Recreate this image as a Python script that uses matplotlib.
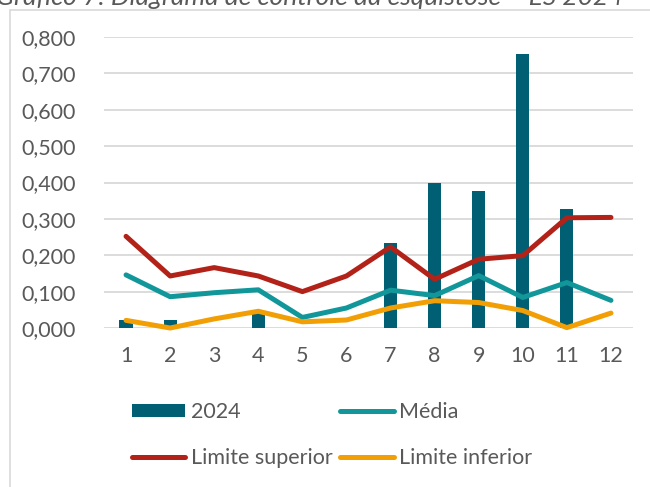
import numpy as np
import matplotlib.pyplot as plt
from matplotlib.patches import Rectangle, Patch
from matplotlib.lines import Line2D
from matplotlib.ticker import FuncFormatter

plt.rcParams['font.family'] = ['Lato', 'DejaVu Sans']

months = ['1', '2', '3', '4', '5', '6', '7', '8', '9', '10', '11', '12']
casos_2024 = [0.022, 0.022, 0.0, 0.040, 0.0, 0.0, 0.233, 0.400, 0.376, 0.754, 0.328, 0.0]
media = [0.146, 0.086, 0.097, 0.105, 0.029, 0.055, 0.104, 0.089, 0.144, 0.084, 0.125, 0.076]
lim_sup = [0.252, 0.143, 0.166, 0.143, 0.100, 0.143, 0.223, 0.134, 0.189, 0.199, 0.303, 0.304]
lim_inf = [0.021, 0.000, 0.025, 0.046, 0.017, 0.022, 0.055, 0.075, 0.070, 0.048, 0.001, 0.041]

c_bar = '#015F73'
c_media = '#11979A'
c_sup = '#B22218'
c_inf = '#F29F05'
c_text = '#595959'

fig = plt.figure(figsize=(6.5, 4.87), dpi=100)

# chart frame (runs off the right and bottom edge)
fig.patches.append(Rectangle((10 / 650, -0.1), 1.0, 1 - 10 / 487 + 0.1,
                             transform=fig.transFigure, fill=False,
                             edgecolor='#D9D9D9', lw=1.2))
# title, cut by the top edge as in the source
fig.text(-4 / 650, 1 - 5 / 487, 'Gráfico 7: Diagrama de controle da esquistose – ES 2024',
         ha='left', va='baseline', fontsize=19, style='italic', color=c_text)

ax = fig.add_axes([104 / 650, 1 - 328 / 487, 529 / 650, 291 / 487])
x = np.arange(len(months))
ax.bar(x, casos_2024, width=0.3, color=c_bar, zorder=2)
ax.plot(x, media, color=c_media, lw=3.6, solid_capstyle='round', zorder=3, clip_on=False)
ax.plot(x, lim_sup, color=c_sup, lw=3.6, solid_capstyle='round', zorder=3, clip_on=False)
ax.plot(x, lim_inf, color=c_inf, lw=3.6, solid_capstyle='round', zorder=3, clip_on=False)

ax.set_xlim(-0.5, 11.5)
ax.set_ylim(0, 0.8)
ax.set_yticks(np.arange(0, 0.81, 0.1))
ax.yaxis.set_major_formatter(FuncFormatter(lambda v, p: f'{v:.3f}'.replace('.', ',')))
ax.set_xticks(x)
ax.set_xticklabels(months)
ax.grid(axis='y', color='#D9D9D9', lw=1.3, zorder=0)
ax.set_axisbelow(True)
for s in ax.spines.values():
    s.set_visible(False)
ax.tick_params(length=0, labelsize=15.5, labelcolor=c_text)
ax.tick_params(axis='x', pad=13)
ax.tick_params(axis='y', pad=20)

handles = [Patch(facecolor=c_bar),
           Line2D([], [], color=c_sup, lw=3.6, solid_capstyle='round'),
           Line2D([], [], color=c_media, lw=3.6, solid_capstyle='round'),
           Line2D([], [], color=c_inf, lw=3.6, solid_capstyle='round')]
labels = ['2024', 'Limite superior', 'Média', 'Limite inferior']
fig.legend(handles, labels, ncol=2, frameon=False, fontsize=15.5,
           labelcolor=c_text, loc='center left',
           bbox_to_anchor=(123 / 650, 1 - 435 / 487),
           handlelength=2.5, handleheight=0.6, handletextpad=0.25,
           columnspacing=0.35, labelspacing=1.2, borderaxespad=0)

fig.savefig('out.png', dpi=100)
